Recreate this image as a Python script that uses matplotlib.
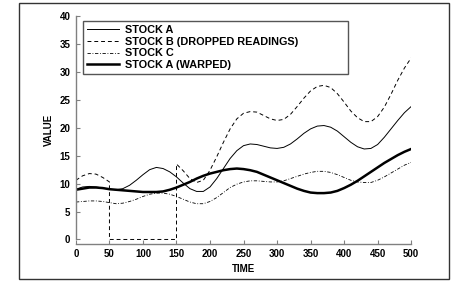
import numpy as np
import matplotlib.pyplot as plt
from matplotlib.patches import Rectangle

plt.rcParams['font.family'] = ['Liberation Sans', 'DejaVu Sans']

# time axis, one reading every 10 units
time = list(range(0, 501, 10))

stock_a = [9.0, 9.4, 9.5, 9.4, 9.2, 9.0, 8.9, 9.1, 9.7, 10.6,
           11.6, 12.5, 12.9, 12.7, 12.1, 11.2, 10.1, 9.1, 8.6, 8.6,
           9.4, 10.9, 12.7, 14.5, 15.9, 16.8, 17.1, 17.0, 16.7, 16.4,
           16.3, 16.5, 17.1, 18.0, 19.0, 19.8, 20.3, 20.4, 20.1, 19.4,
           18.4, 17.4, 16.6, 16.2, 16.3, 17.0, 18.3, 19.8, 21.3, 22.7,
           23.8]

# stock B: readings between t=50 and t=150 were dropped (recorded as 0)
time_b = [0, 10, 20, 30, 40, 50, 50, 60, 70, 80, 90, 100, 110, 120, 130,
          140, 150, 150, 160, 170, 180, 190, 200, 210, 220, 230, 240, 250,
          260, 270, 280, 290, 300, 310, 320, 330, 340, 350, 360, 370, 380,
          390, 400, 410, 420, 430, 440, 450, 460, 470, 480, 490, 500]
stock_b = [10.6, 11.4, 11.8, 11.7, 11.1, 10.3, 0, 0, 0, 0, 0, 0, 0, 0, 0,
           0, 0, 13.5, 12.3, 10.9, 10.2, 10.6, 12.4, 14.8, 17.4, 19.8, 21.6,
           22.6, 22.9, 22.8, 22.2, 21.6, 21.3, 21.5, 22.4, 23.8, 25.3, 26.6,
           27.4, 27.6, 27.2, 26.1, 24.6, 23.0, 21.8, 21.1, 21.1, 22.0, 23.7,
           26.0, 28.5, 30.7, 32.5]

stock_c = [6.7, 6.8, 6.9, 6.9, 6.8, 6.6, 6.4, 6.5, 6.8, 7.2,
           7.7, 8.1, 8.3, 8.3, 8.1, 7.7, 7.2, 6.7, 6.4, 6.4,
           6.8, 7.5, 8.4, 9.3, 9.9, 10.3, 10.5, 10.5, 10.4, 10.3,
           10.3, 10.5, 10.9, 11.3, 11.7, 12.0, 12.2, 12.2, 12.0, 11.6,
           11.1, 10.6, 10.3, 10.2, 10.2, 10.6, 11.2, 11.9, 12.6, 13.3,
           13.8]

stock_a_warped = [8.9, 9.1, 9.3, 9.3, 9.2, 9.0, 8.9, 8.8, 8.7, 8.6,
                  8.5, 8.5, 8.5, 8.6, 8.9, 9.3, 9.8, 10.3, 10.9, 11.4,
                  11.8, 12.1, 12.4, 12.6, 12.7, 12.6, 12.4, 12.1, 11.6, 11.1,
                  10.6, 10.1, 9.6, 9.1, 8.7, 8.4, 8.3, 8.3, 8.4, 8.7,
                  9.2, 9.8, 10.5, 11.3, 12.1, 12.9, 13.7, 14.4, 15.1, 15.7,
                  16.2]

labels = ['STOCK A', 'STOCK B (DROPPED READINGS)', 'STOCK C', 'STOCK A (WARPED)']

fig = plt.figure(figsize=(4.63, 2.82), dpi=100)
ax = fig.add_axes([0.164, 0.135, 0.724, 0.808])

ax.plot(time, stock_a, color='black', lw=0.7, label=labels[0])
ax.plot(time_b, stock_b, color='black', lw=0.7, dashes=(4, 3), label=labels[1])
ax.plot(time, stock_c, color='black', lw=0.6, dashes=(4, 2, 1, 2), label=labels[2])
ax.plot(time, stock_a_warped, color='black', lw=1.8, label=labels[3])

ax.set_xlim(0, 500)
ax.set_ylim(-0.8, 40)
ax.set_xticks(range(0, 501, 50))
ax.set_yticks(range(0, 41, 5))

ax.spines['top'].set_visible(False)
ax.spines['right'].set_visible(False)
for s in ['left', 'bottom']:
    ax.spines[s].set_color('#808080')
    ax.spines[s].set_linewidth(1.0)
ax.spines['left'].set_bounds(0, 40)
ax.tick_params(direction='in', length=3, width=0.8, color='#808080',
               labelsize=7, pad=4)
for lab in ax.get_xticklabels() + ax.get_yticklabels():
    lab.set_fontweight('bold')

ax.set_xlabel('TIME', fontsize=7, fontweight='bold', labelpad=3)
ax.set_ylabel('VALUE', fontsize=7, fontweight='bold', labelpad=4)

leg = ax.legend(loc='upper left', bbox_to_anchor=(0.021, 0.746, 0.79, 0.232),
                mode='expand', borderaxespad=0,
                fancybox=False, framealpha=1, edgecolor='#555555',
                prop={'size': 7.8, 'weight': 'bold'}, handlelength=3.0,
                labelspacing=0.16, borderpad=0.35, handletextpad=0.5)
leg.get_frame().set_linewidth(1.0)

# frame around the whole picture
fig.patches.append(Rectangle((0.041, 0.0106), 0.929, 0.979, transform=fig.transFigure,
                             fill=False, edgecolor='#333333', lw=1.0))

fig.savefig('out.png', dpi=100)
